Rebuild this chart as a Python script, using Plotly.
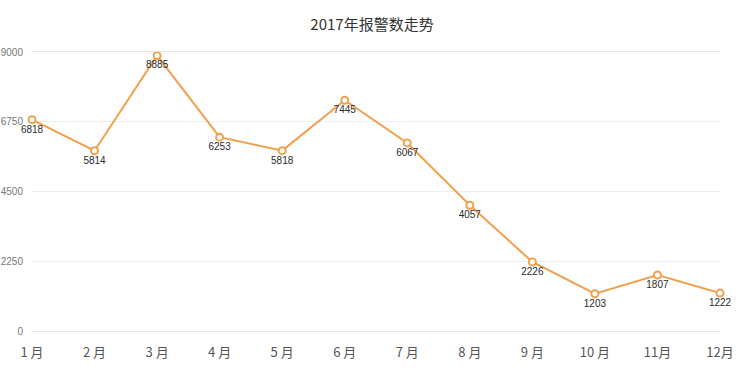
import plotly.graph_objects as go

months = ["1 月", "2 月", "3 月", "4 月", "5 月", "6 月", "7 月", "8 月", "9 月", "10 月", "11月", "12月"]
alarms = [6818, 5814, 8885, 6253, 5818, 7445, 6067, 4057, 2226, 1203, 1807, 1222]
y_ticks = [0, 2250, 4500, 6750, 9000]
title = "2017年报警数走势"

idx = list(range(len(months)))

fig = go.Figure()
fig.add_trace(go.Scatter(
    x=idx, y=alarms,
    mode="lines+markers+text",
    line=dict(color="#F2A04E", width=2),
    marker=dict(symbol="circle", size=7, color="white", line=dict(color="#F2A04E", width=2)),
    text=[str(v) for v in alarms],
    textposition="bottom center",
    textfont=dict(family="Liberation Sans, Arial, sans-serif", size=10, color="#2a2a2a"),
    cliponaxis=False,
    hoverinfo="skip",
))

fig.update_layout(
    width=744, height=370,
    margin=dict(l=32, r=24, t=52, b=39, autoexpand=False),
    paper_bgcolor="white", plot_bgcolor="white",
    showlegend=False,
    title=dict(text=title, x=0.5, xanchor="center", y=0.932, yref="container", yanchor="middle",
               font=dict(family="Noto Sans CJK SC, sans-serif", size=15, color="#333333")),
    font=dict(family="Liberation Sans, Noto Sans CJK SC, sans-serif"),
)
fig.update_xaxes(
    range=[0, len(months) - 1], tickmode="array", tickvals=idx, ticktext=months,
    showgrid=False, zeroline=False, automargin=False,
    showline=True, linecolor="#E6E6E6", linewidth=1, mirror=True,
    ticks="outside", ticklen=9, tickcolor="rgba(0,0,0,0)",
    tickfont=dict(family="Noto Sans CJK SC, sans-serif", size=13, color="#555555"),
)
fig.update_yaxes(
    range=[0, 9000], tickmode="array", tickvals=y_ticks, automargin=False,
    showgrid=True, gridcolor="#EEEEEE", gridwidth=1, zeroline=False, showline=False,
    ticks="outside", ticklen=6, tickcolor="rgba(0,0,0,0)",
    tickfont=dict(family="Liberation Sans, Arial, sans-serif", size=10, color="#777777"),
)

fig.write_html("out.html", config={"displayModeBar": False},
               post_script="document.body.style.margin='0';")
